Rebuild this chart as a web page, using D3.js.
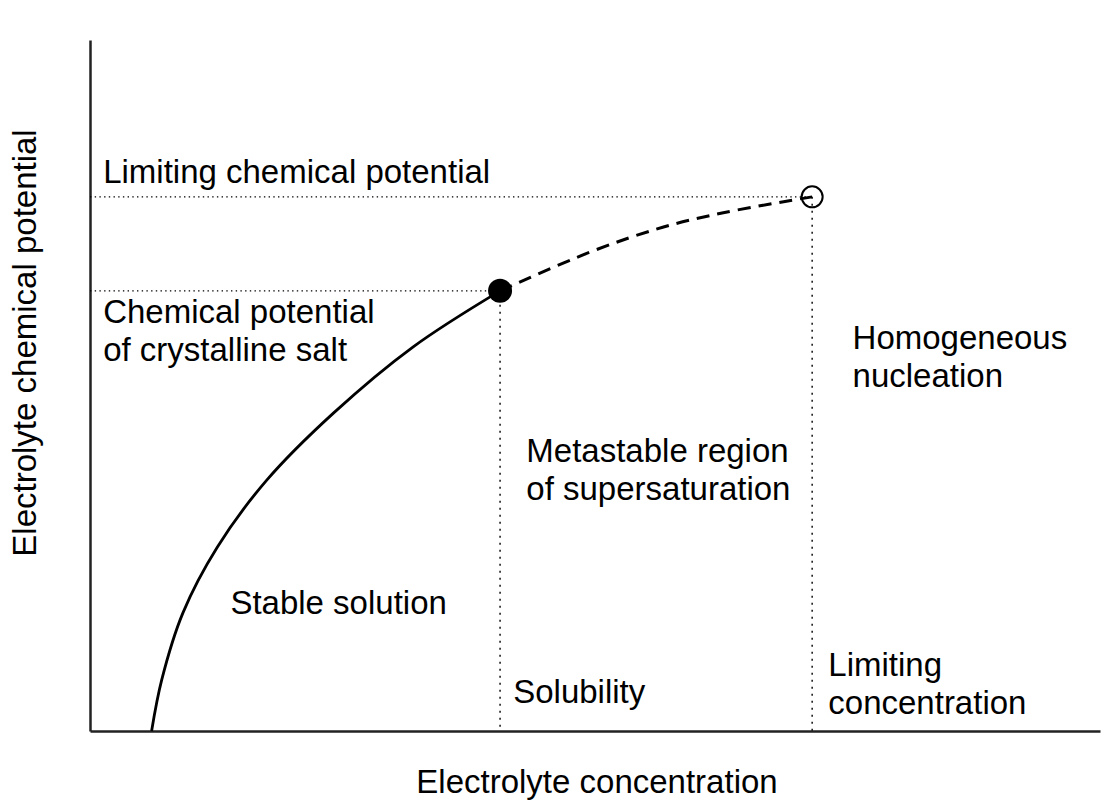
<!DOCTYPE html>
<html>
<head>
<meta charset="utf-8">
<script src="https://cdn.jsdelivr.net/npm/d3@7"></script>
<style>
  body { margin: 0; background: #fff; }
  text { font-family: "Liberation Sans", Arial, sans-serif; font-size: 33px; fill: #000; }
</style>
</head>
<body>
<div class="chart"></div>
<script>
//==================================
// Data (concentration, potential) in arbitrary units 0..100
//==================================
var stableCurve = [
	[6.1, 0], [7.1, 7.4], [9.2, 17.1], [12.6, 26.6], [17.5, 36.3],
	[24.1, 46.0], [32.0, 55.6], [40.6, 63.7]
];
var metastableCurve = [
	[40.6, 63.7], [49.5, 69.3], [56.7, 72.9], [62.7, 75.0], [71.5, 77.3]
];
var solubilityPoint = [40.6, 63.7];
var limitingPoint = [71.5, 77.3];

var xLabel = "Electrolyte concentration";
var yLabel = "Electrolyte chemical potential";

// region labels: [x, y, lines]
var regionLabels = [
	[1.3, 79.3, ["Limiting chemical potential"]],
	[1.3, 59.0, ["Chemical potential", "of crystalline salt"]],
	[75.5, 55.3, ["Homogeneous", "nucleation"]],
	[43.2, 39.0, ["Metastable region", "of supersaturation"]],
	[13.9, 17.0, ["Stable solution"]],
	[41.9, 4.0, ["Solubility"]],
	[73.1, 8.0, ["Limiting", "concentration"]]
];

//==================================
// Set up our chart
//==================================
var svgWidth = 1102;
var svgHeight = 812;
var margin = { top: 40, right: 2, bottom: 81, left: 90 };
var width = svgWidth - margin.left - margin.right;
var height = svgHeight - margin.top - margin.bottom;

var svg = d3.select(".chart")
	.append("svg")
	.attr("width", svgWidth)
	.attr("height", svgHeight);

var chart = svg.append("g")
	.attr("transform", "translate(" + margin.left + "," + margin.top + ")");

var xScale = d3.scaleLinear().domain([0, 100]).range([0, width]);
var yScale = d3.scaleLinear().domain([0, 100]).range([height, 0]);

// axes without ticks
chart.append("g")
	.attr("transform", "translate(0," + height + ")")
	.call(d3.axisBottom(xScale).ticks(0).tickSizeOuter(0))
	.select(".domain").attr("stroke", "#222").attr("stroke-width", 2.5);

chart.append("g")
	.call(d3.axisLeft(yScale).ticks(0).tickSizeOuter(0))
	.select(".domain").attr("stroke", "#222").attr("stroke-width", 2.5);

// dotted guide lines
function guide(x1, y1, x2, y2, dash) {
	chart.append("line")
		.attr("x1", xScale(x1)).attr("y1", yScale(y1))
		.attr("x2", xScale(x2)).attr("y2", yScale(y2))
		.attr("stroke", "#000")
		.attr("stroke-width", 1.4)
		.attr("stroke-dasharray", dash);
}
guide(0, limitingPoint[1], limitingPoint[0], limitingPoint[1], "1.4,3.3");
guide(0, solubilityPoint[1], solubilityPoint[0], solubilityPoint[1], "1.4,3.3");
guide(solubilityPoint[0], solubilityPoint[1], solubilityPoint[0], 0, "2,5");
guide(limitingPoint[0], limitingPoint[1], limitingPoint[0], 0, "2,5");

// curves
var line = d3.line()
	.x(function(d) { return xScale(d[0]); })
	.y(function(d) { return yScale(d[1]); })
	.curve(d3.curveCatmullRom.alpha(0.5));

chart.append("path")
	.datum(stableCurve)
	.attr("d", line)
	.attr("fill", "none")
	.attr("stroke", "#000")
	.attr("stroke-width", 2.8);

chart.append("path")
	.datum(metastableCurve)
	.attr("d", line)
	.attr("fill", "none")
	.attr("stroke", "#000")
	.attr("stroke-width", 3)
	.attr("stroke-dasharray", "13,8");

// points
chart.append("circle")
	.attr("cx", xScale(solubilityPoint[0]))
	.attr("cy", yScale(solubilityPoint[1]))
	.attr("r", 12)
	.attr("fill", "#000");

chart.append("circle")
	.attr("cx", xScale(limitingPoint[0]))
	.attr("cy", yScale(limitingPoint[1]))
	.attr("r", 10.5)
	.attr("fill", "none")
	.attr("stroke", "#000")
	.attr("stroke-width", 2);

// region labels
regionLabels.forEach(function(d) {
	var t = chart.append("text")
		.attr("x", xScale(d[0]))
		.attr("y", yScale(d[1]));
	d[2].forEach(function(s, i) {
		t.append("tspan")
			.attr("x", xScale(d[0]))
			.attr("dy", i === 0 ? 0 : 38)
			.text(s);
	});
});

// axis titles
svg.append("text")
	.attr("x", 597)
	.attr("y", 793)
	.attr("text-anchor", "middle")
	.text(xLabel);

svg.append("text")
	.attr("transform", "translate(36," + 343 + ") rotate(-90)")
	.attr("text-anchor", "middle")
	.text(yLabel);
</script>
</body>
</html>
